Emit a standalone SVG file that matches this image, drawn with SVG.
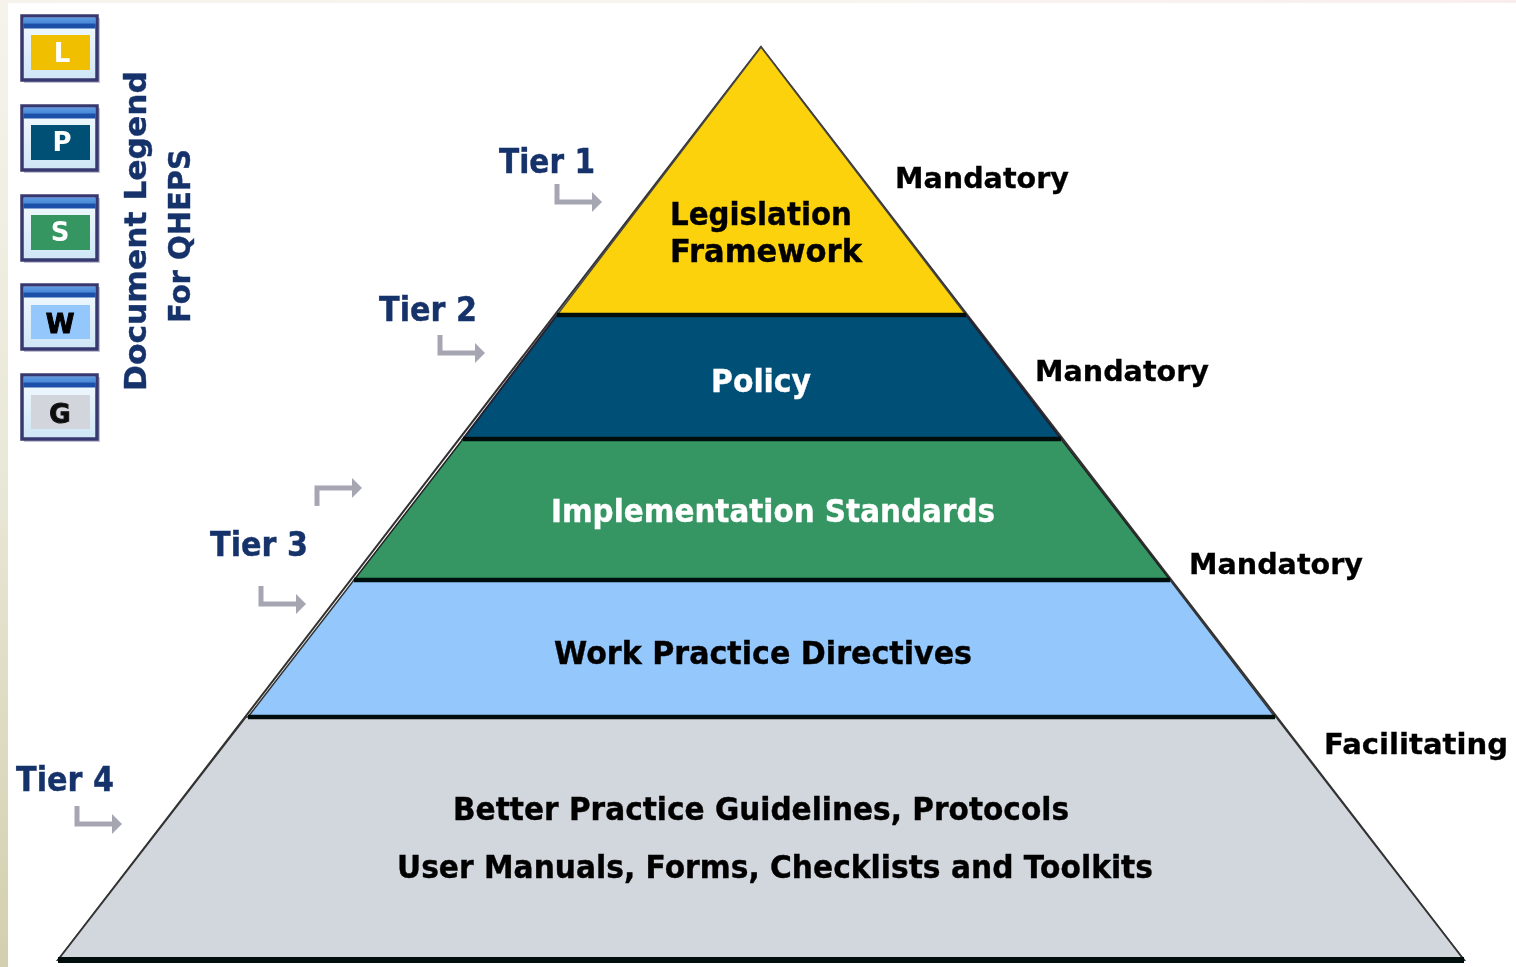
<svg xmlns="http://www.w3.org/2000/svg" width="1516" height="967" viewBox="0 0 1516 967">
<defs>
<linearGradient id="side" x1="0" y1="0" x2="0" y2="1"><stop offset="0" stop-color="#f6f3ec"/><stop offset="0.5" stop-color="#e9e7d6"/><stop offset="1" stop-color="#d3cfae"/></linearGradient>
<linearGradient id="bar" x1="0" y1="0" x2="0" y2="1"><stop offset="0" stop-color="#5f9ae2"/><stop offset="0.5" stop-color="#4a8ad8"/><stop offset="0.6" stop-color="#1a50a8"/><stop offset="1" stop-color="#1a50a8"/></linearGradient>
<linearGradient id="pane" x1="0" y1="0" x2="0" y2="1"><stop offset="0" stop-color="#f4fafe"/><stop offset="1" stop-color="#cfe6f6"/></linearGradient>
<linearGradient id="top" x1="0" y1="0" x2="1" y2="0"><stop offset="0" stop-color="#f6f3ec"/><stop offset="0.6" stop-color="#f8f4f0"/><stop offset="1" stop-color="#f8eeee"/></linearGradient>
<filter id="soft" x="-5%" y="-5%" width="110%" height="110%"><feGaussianBlur stdDeviation="0.7"/></filter>
<filter id="softer" x="-5%" y="-5%" width="110%" height="110%"><feGaussianBlur stdDeviation="0.45"/></filter>
<g id="win">
<rect x="2" y="2" width="76" height="65" fill="#9a9ab4" opacity="0.6"/>
<rect x="0" y="0" width="75" height="64" fill="url(#pane)" stroke="#38386f" stroke-width="3.5"/>
<rect x="1.5" y="1.5" width="72" height="11" fill="url(#bar)"/>
</g>
<g id="arr" fill="none" stroke="#a6a6b2" stroke-width="5">
<path d="M0,-2V16H36"/><path d="M35,6L45,16L35,26Z" fill="#a6a6b2" stroke="none"/>
</g>
</defs>
<style>
text{font-family:"DejaVu Sans","Liberation Sans",sans-serif;font-weight:700;}
.lbl{font-size:32px;fill:#000;stroke:#000;stroke-width:0.4;}
.wht{fill:#fff;stroke:#fff;}
.tier{font-size:33px;fill:#17326a;stroke:#17326a;stroke-width:0.4;}
.side{font-size:28px;fill:#000;stroke:#000;stroke-width:0.3;}
.leg{font-size:31px;fill:#17326a;stroke:#17326a;stroke-width:0.4;}
.key{font-size:26px;text-anchor:middle;}
.band{stroke-width:4.5;stroke:#04100c;}
</style>
<rect width="1516" height="967" fill="#ffffff"/>
<rect width="1516" height="3" fill="url(#top)"/>
<rect width="8" height="967" fill="url(#side)"/>
<g id="legend" filter="url(#soft)">
<g id="key-l"><use href="#win" x="22" y="16"/><rect x="31" y="35" width="59" height="35" fill="#f0c000"/><text class="key" x="62" y="62" fill="#fff">L</text></g>
<g id="key-p"><use href="#win" x="22" y="106"/><rect x="31" y="125" width="59" height="35" fill="#064f75"/><text class="key" x="62" y="151" fill="#fff">P</text></g>
<g id="key-s"><use href="#win" x="22" y="196"/><rect x="31" y="215" width="59" height="35" fill="#359662"/><text class="key" x="60" y="241" fill="#fff">S</text></g>
<g id="key-w"><use href="#win" x="22" y="285"/><rect x="31" y="305" width="59" height="34" fill="#94c8fd"/><text class="key" x="60" y="333" fill="#000" stroke="#000">W</text></g>
<g id="key-g"><use href="#win" x="22" y="375"/><rect x="31" y="395" width="59" height="34" fill="#d2d5db"/><text class="key" x="60" y="423" fill="#111" stroke="#111">G</text></g>
<text class="leg" transform="translate(146,391) rotate(-90)" textLength="320" lengthAdjust="spacingAndGlyphs">Document Legend</text>
<text class="leg" transform="translate(190,323) rotate(-90)" textLength="174" lengthAdjust="spacingAndGlyphs">For QHEPS</text>
</g>
<g id="pyramid" filter="url(#softer)">
<path id="outline" d="M761,47L1464,960H58Z" fill="#fff" stroke="#333" stroke-width="2"/>
<g id="tier-legislation"><path d="M761,47L966,315H557Z" fill="#fcd20f" stroke="#444" stroke-width="1.5"/><text class="lbl" x="670" y="225" textLength="182" lengthAdjust="spacingAndGlyphs">Legislation</text><text class="lbl" x="670" y="262" textLength="192" lengthAdjust="spacingAndGlyphs">Framework</text></g>
<g id="tier-policy"><path d="M557,315H966L1061,439H463Z" fill="#034f76" stroke="#223" stroke-width="2"/><text class="lbl wht" x="711" y="392" textLength="100" lengthAdjust="spacingAndGlyphs">Policy</text></g>
<g id="tier-standards"><path d="M463,439H1061L1170,580H354Z" fill="#359663" stroke="#222" stroke-width="1.5"/><text class="lbl wht" x="551" y="522" textLength="444" lengthAdjust="spacingAndGlyphs">Implementation Standards</text></g>
<g id="tier-directives"><path d="M354,580H1170L1275,717H248Z" fill="#94c8fd" stroke="#333" stroke-width="1.5"/><text class="lbl" x="554" y="664" textLength="418" lengthAdjust="spacingAndGlyphs">Work Practice Directives</text></g>
<g id="tier-guidelines"><path d="M246,717H1276L1464,960H58Z" fill="#d2d6dd" stroke="#333" stroke-width="1.5"/><text class="lbl" x="453" y="820" textLength="616" lengthAdjust="spacingAndGlyphs">Better Practice Guidelines, Protocols</text><text class="lbl" x="397" y="878" textLength="756" lengthAdjust="spacingAndGlyphs">User Manuals, Forms, Checklists and Toolkits</text></g>
<path d="M557,315H966M463,439H1061M354,580H1170M248,717H1275" class="band" fill="none"/>
<path d="M58,960H1464" stroke="#04100c" stroke-width="6" fill="none"/>
</g>
<g id="labels" filter="url(#softer)">
<text class="tier" x="499" y="173" textLength="96" lengthAdjust="spacingAndGlyphs">Tier 1</text>
<text class="tier" x="379" y="321" textLength="98" lengthAdjust="spacingAndGlyphs">Tier 2</text>
<text class="tier" x="210" y="556" textLength="98" lengthAdjust="spacingAndGlyphs">Tier 3</text>
<text class="tier" x="16" y="791" textLength="98" lengthAdjust="spacingAndGlyphs">Tier 4</text>
<text class="side" x="895" y="188" textLength="174" lengthAdjust="spacingAndGlyphs">Mandatory</text>
<text class="side" x="1035" y="381" textLength="174" lengthAdjust="spacingAndGlyphs">Mandatory</text>
<text class="side" x="1189" y="574" textLength="174" lengthAdjust="spacingAndGlyphs">Mandatory</text>
<text class="side" x="1324" y="754" textLength="184" lengthAdjust="spacingAndGlyphs">Facilitating</text>
</g>
<g id="connectors" filter="url(#soft)">
<use href="#arr" x="557" y="186"/>
<use href="#arr" x="440" y="337"/>
<use href="#arr" transform="translate(317,504) scale(1,-1)"/>
<use href="#arr" x="261" y="588"/>
<use href="#arr" x="77" y="808"/>
</g>
</svg>
